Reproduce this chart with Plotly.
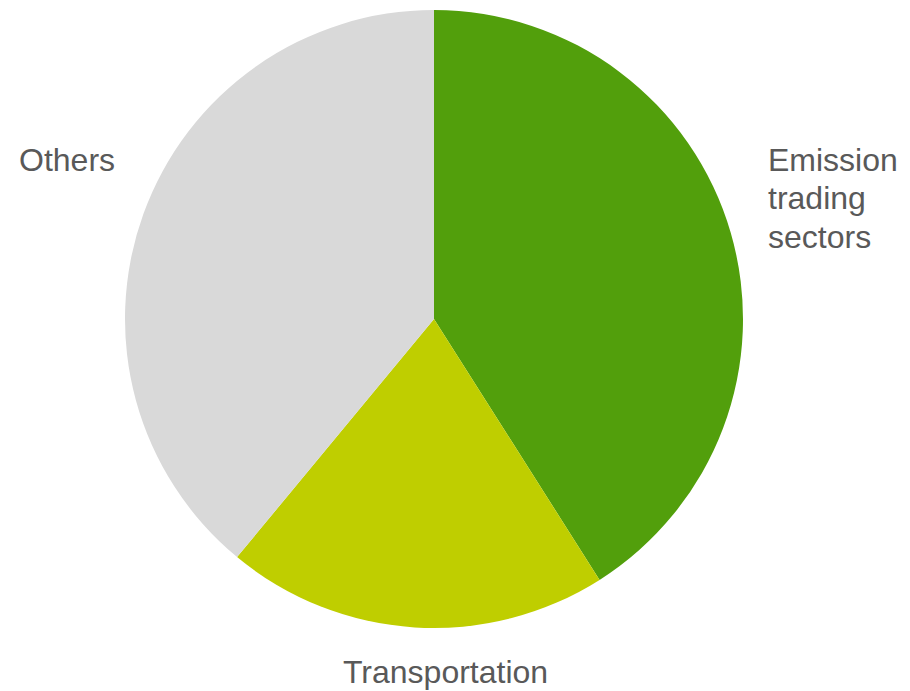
import plotly.graph_objects as go

# Share of emissions by sector (%)
sectors = ["Emission trading sectors", "Transportation", "Others"]
shares = [41, 20, 39]
colors = ["#529F0C", "#BFCE00", "#D9D9D9"]

W, H = 910, 691

fig = go.Figure(
    go.Pie(
        labels=sectors,
        values=shares,
        marker=dict(colors=colors, line=dict(width=0)),
        sort=False,
        direction="clockwise",
        rotation=0,
        textinfo="none",
        hoverinfo="label+percent",
        domain=dict(x=[125 / W, 743 / W], y=[1 - 628 / H, 1 - 10 / H]),
        showlegend=False,
    )
)

label_font = dict(family="Liberation Sans, Arial, sans-serif", size=32, color="#595959")


def add_label(text, x, y, anchor):
    fig.add_annotation(text=text, x=x / W, y=1 - y / H,
                       xref="paper", yref="paper", xanchor=anchor, yanchor="middle",
                       align="left", showarrow=False, font=label_font)


# Category labels placed around the pie (wrapped label set line by line)
for line, y in zip(["Emission", "trading", "sectors"], [160, 198, 237]):
    add_label(line, 766, y, "left")
add_label("Transportation", 445, 672, "center")
add_label("Others", 17, 160, "left")

fig.update_layout(
    width=W,
    height=H,
    margin=dict(l=0, r=0, t=0, b=0),
    paper_bgcolor="white",
    plot_bgcolor="white",
)

fig.write_html("out.html")
